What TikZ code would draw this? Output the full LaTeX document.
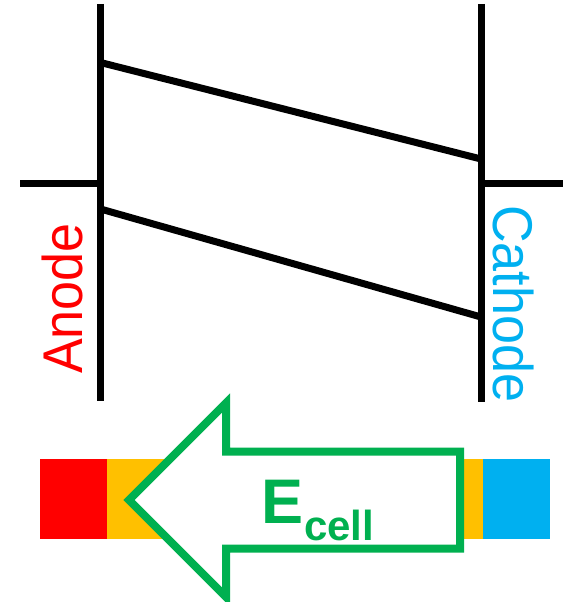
\documentclass[tikz,border=0pt]{standalone}
\usepackage{fontspec}
\setmainfont{Liberation Sans}
\newfontfamily\labelfont[FakeStretch=0.93]{Liberation Sans}
\definecolor{ared}{HTML}{FF0000}
\definecolor{aorange}{HTML}{FFC000}
\definecolor{ablue}{HTML}{00B0F0}
\definecolor{agreen}{HTML}{00B050}
\tikzset{
  wire/.style={draw=black, line width=7pt},
  bigarrow/.style={draw=agreen, fill=white, line width=8pt, line join=miter},
  elabel/.style={inner sep=0pt, anchor=base west, font=\labelfont\fontsize{56}{56}\selectfont},
}
\begin{document}
\begin{tikzpicture}[x=1pt, y=-1pt]
\useasboundingbox (0,0) rectangle (572,602);
\clip (0,0) rectangle (572,602);
% electrode lines
\coordinate (aT) at (100.5,4);
\coordinate (aB) at (100.5,401);
\coordinate (cT) at (481,4);
\coordinate (cB) at (481,402);
\coordinate (aL) at (20,183);
\coordinate (aM) at (100.5,183);
\coordinate (cM) at (481,183);
\coordinate (cR) at (563,183);
\coordinate (u1) at (100.5,62.5);
\coordinate (u2) at (481,159);
\coordinate (l1) at (100.5,209);
\coordinate (l2) at (481,317);
\draw[wire] (aT) -- (aB);
\draw[wire] (cT) -- (cB);
\draw[wire] (aL) -- (aM);
\draw[wire] (cM) -- (cR);
\draw[wire] (u1) -- (u2);
\draw[wire] (l1) -- (l2);
% labels
\node[elabel, text=ared, rotate=90] (anode) at (82,374) {Anode};
\node[elabel, text=ablue, rotate=-90] (cathode) at (493,205) {Cathode};
% bar
\fill[ared] (40,459) rectangle (107,539);
\fill[aorange] (107,459) rectangle (483,539);
\fill[ablue] (483,459) rectangle (550,539);
% arrow
\draw[bigarrow] (460,451.5) -- (226,451.5) -- (226,403) -- (129,500) -- (226,597) -- (226,548.5) -- (460,548.5) -- cycle;
\node[inner sep=0pt, anchor=base west, text=agreen, font=\bfseries\fontsize{63}{63}\selectfont] (E) at (261,523) {E};
\node[inner sep=0pt, anchor=base west, text=agreen, font=\bfseries\fontsize{42}{42}\selectfont] (cell) at (304,540) {cell};
\end{tikzpicture}
\end{document}
